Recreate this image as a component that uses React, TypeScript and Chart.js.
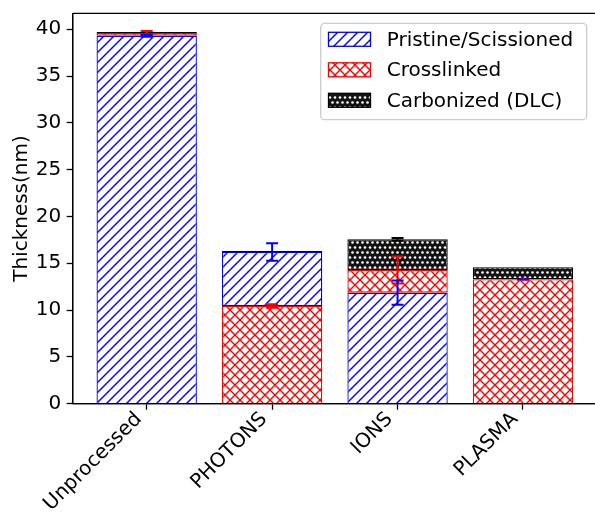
import React, { useEffect, useRef } from "react";
import { Chart, registerables } from "chart.js";

Chart.register(...registerables);

// ---- data ----
const categories = ["Unprocessed", "PHOTONS", "IONS", "PLASMA"];
const pristine = [39.3, 5.76, 11.86, 0];
const crosslinked = [0.3, 10.44, 2.42, 13.29];
const carbonized = [0.1, 0.1, 3.28, 1.28];
// true where the pristine layer sits on top of the crosslinked layer
const pristineOnTop = [false, true, false, true];
const errPristine = [0.1, 0.93, 1.3, 0];
const errCrosslinked = [0.2, 0.18, 1.45, 0.05];
const errCarbonized: (number | null)[] = [null, null, 0.15, null];
const yTicks = [0, 5, 10, 15, 20, 25, 30, 35, 40];
const legendLabels = ["Pristine/Scissioned", "Crosslinked", "Carbonized (DLC)"];

const FONT = "'DejaVu Sans', 'Liberation Sans', sans-serif";
const BLUE = "#0000ff";
const RED = "#ff0000";
const BLACK = "#000000";

function makeTile(kind: "blue" | "red" | "black"): HTMLCanvasElement {
  const c = document.createElement("canvas");
  c.width = 10;
  c.height = 10;
  const g = c.getContext("2d")!;
  if (kind === "black") {
    g.fillStyle = "#141414";
    g.fillRect(0, 0, 10, 10);
    g.fillStyle = "#ffffff";
    const dots = [
      [2.5, 2.5], [7.5, 2.5],
      [0, 7.5], [5, 7.5], [10, 7.5],
    ];
    for (const [x, y] of dots) {
      g.beginPath();
      g.arc(x, y, 1.3, 0, Math.PI * 2);
      g.fill();
    }
    return c;
  }
  g.fillStyle = "#ffffff";
  g.fillRect(0, 0, 10, 10);
  g.strokeStyle = kind === "blue" ? BLUE : RED;
  g.lineWidth = 1.4;
  g.lineCap = "square";
  const seg = (x1: number, y1: number, x2: number, y2: number) => {
    g.beginPath();
    g.moveTo(x1, y1);
    g.lineTo(x2, y2);
    g.stroke();
  };
  seg(-1, 1, 1, -1);
  seg(-1, 11, 11, -1);
  seg(9, 11, 11, 9);
  if (kind === "red") {
    seg(-1, -1, 11, 11);
    seg(9, -1, 11, 1);
    seg(-1, 9, 1, 11);
  }
  return c;
}

export default function App() {
  const ref = useRef<HTMLCanvasElement | null>(null);

  useEffect(() => {
    const canvas = ref.current;
    if (!canvas) return;
    const ctx0 = canvas.getContext("2d")!;
    const pBlue = ctx0.createPattern(makeTile("blue"), "repeat")!;
    const pRed = ctx0.createPattern(makeTile("red"), "repeat")!;
    const pBlack = ctx0.createPattern(makeTile("black"), "repeat")!;

    const pts = (vals: (number | null)[]) =>
      vals
        .map((v, i) => ({ x: i, y: v }))
        .filter((p) => p.y !== null && p.y !== 0) as { x: number; y: number }[];

    const pristineBottom = pristine.map((v, i) => (pristineOnTop[i] ? null : v));
    const pristineTop = pristine.map((v, i) => (pristineOnTop[i] ? v : null));

    // the lowest segment of each bar sits on the axis: skip its bottom edge
    const skipFor = (dsIndex: number) => (c: any) => {
      const cat = c.raw ? c.raw.x : -1;
      if (cat < 0) return false;
      const bottomDs = pristineOnTop[cat] ? 1 : 0;
      return dsIndex === bottomDs ? "start" : false;
    };

    const common = {
      borderWidth: 1.3,
      stack: "s",
      categoryPercentage: 1.0,
      barPercentage: 0.8,
    };

    const errorPlugin = {
      id: "errorbars",
      afterDatasetsDraw(chart: any) {
        const ctx = chart.ctx as CanvasRenderingContext2D;
        const xs = chart.scales.x;
        const ys = chart.scales.y;
        const a = chart.chartArea;
        const drawErr = (i: number, center: number, err: number, color: string) => {
          const x = xs.getPixelForValue(i);
          const yT = ys.getPixelForValue(center + err);
          const yB = ys.getPixelForValue(center - err);
          ctx.save();
          ctx.strokeStyle = color;
          ctx.lineWidth = 2;
          ctx.beginPath();
          ctx.moveTo(x, yT);
          ctx.lineTo(x, yB);
          ctx.moveTo(x - 6, yT);
          ctx.lineTo(x + 6, yT);
          ctx.moveTo(x - 6, yB);
          ctx.lineTo(x + 6, yB);
          ctx.stroke();
          ctx.restore();
        };
        categories.forEach((_, i) => {
          let pTop: number, cTop: number;
          if (pristineOnTop[i]) {
            cTop = crosslinked[i];
            pTop = cTop + pristine[i];
          } else {
            pTop = pristine[i];
            cTop = pTop + crosslinked[i];
          }
          const dTop = Math.max(pTop, cTop) + carbonized[i];
          drawErr(i, cTop, errCrosslinked[i], RED);
          drawErr(i, pTop, errPristine[i], BLUE);
          const ec = errCarbonized[i];
          if (ec !== null) drawErr(i, dTop, ec, BLACK);
        });
        // spines above the bars
        ctx.save();
        ctx.strokeStyle = BLACK;
        ctx.lineWidth = 1.3;
        ctx.beginPath();
        ctx.moveTo(a.left, a.bottom);
        ctx.lineTo(a.right, a.bottom);
        ctx.moveTo(a.left, a.top);
        ctx.lineTo(a.right, a.top);
        ctx.lineTo(a.right, a.bottom);
        ctx.moveTo(a.left, a.top);
        ctx.lineTo(a.left, a.bottom);
        ctx.stroke();
        ctx.restore();
      },
      afterDraw(chart: any) {
        const ctx = chart.ctx as CanvasRenderingContext2D;
        // legend
        const lx = 320.7, ly = 23.3, lw = 266, lh = 96.4, r = 4;
        ctx.save();
        ctx.beginPath();
        ctx.moveTo(lx + r, ly);
        ctx.lineTo(lx + lw - r, ly);
        ctx.arcTo(lx + lw, ly, lx + lw, ly + r, r);
        ctx.lineTo(lx + lw, ly + lh - r);
        ctx.arcTo(lx + lw, ly + lh, lx + lw - r, ly + lh, r);
        ctx.lineTo(lx + r, ly + lh);
        ctx.arcTo(lx, ly + lh, lx, ly + lh - r, r);
        ctx.lineTo(lx, ly + r);
        ctx.arcTo(lx, ly, lx + r, ly, r);
        ctx.closePath();
        ctx.fillStyle = "rgba(255,255,255,0.8)";
        ctx.fill();
        ctx.strokeStyle = "#cccccc";
        ctx.lineWidth = 1.3;
        ctx.stroke();

        const rowsY = [39.3, 69.8, 100.3];
        const fills = [pBlue, pRed, pBlack];
        const edges = [BLUE, RED, BLACK];
        legendLabels.forEach((label, k) => {
          const px = 328.5, pw = 42, ph = 14;
          const py = rowsY[k] - ph / 2;
          ctx.fillStyle = fills[k];
          ctx.fillRect(px, py, pw, ph);
          ctx.strokeStyle = edges[k];
          ctx.lineWidth = 1.3;
          ctx.strokeRect(px, py, pw, ph);
          ctx.fillStyle = BLACK;
          ctx.font = `20px ${FONT}`;
          ctx.textBaseline = "middle";
          ctx.textAlign = "left";
          ctx.fillText(label, 386.7, rowsY[k] + 1);
        });
        ctx.restore();
      },
    };

    const chart = new Chart(canvas, {
      type: "bar",
      data: {
        datasets: [
          {
            label: legendLabels[0],
            data: pts(pristineBottom),
            backgroundColor: pBlue,
            borderColor: BLUE,
            borderSkipped: skipFor(0),
            ...common,
          },
          {
            label: legendLabels[1],
            data: pts(crosslinked),
            backgroundColor: pRed,
            borderColor: RED,
            borderSkipped: skipFor(1),
            ...common,
          },
          {
            label: legendLabels[0] + " (top)",
            data: pts(pristineTop),
            backgroundColor: pBlue,
            borderColor: BLUE,
            borderSkipped: false,
            ...common,
          },
          {
            label: legendLabels[2],
            data: pts(carbonized),
            backgroundColor: pBlack,
            borderColor: BLACK,
            borderSkipped: false,
            ...common,
          },
        ] as any,
      },
      options: {
        responsive: false,
        animation: false,
        devicePixelRatio: 1,
        layout: { padding: { top: 13.3, right: 3, left: 0, bottom: 0 } },
        plugins: {
          legend: { display: false },
          tooltip: { enabled: false },
        },
        scales: {
          x: {
            type: "linear",
            stacked: true,
            min: -0.59,
            max: 3.59,
            offset: false,
            afterBuildTicks: (s: any) => {
              s.ticks = categories.map((_, i) => ({ value: i }));
            },
            afterFit: (s: any) => {
              s.height = 521 - 403.7;
              s.paddingLeft = 0;
              s.paddingRight = 0;
            },
            ticks: {
              autoSkip: false,
              minRotation: 45,
              maxRotation: 45,
              padding: -2,
              labelOffset: -8,
              color: BLACK,
              font: { family: FONT, size: 20 },
              callback: (v: any) => categories[Number(v)] ?? "",
            },
            grid: {
              offset: false,
              drawOnChartArea: false,
              drawTicks: true,
              tickLength: 6,
              tickWidth: 1.3,
              tickColor: BLACK,
            },
            border: { display: true, color: BLACK, width: 1.3 },
          } as any,
          y: {
            stacked: true,
            min: 0,
            max: 41.7,
            afterBuildTicks: (s: any) => {
              s.ticks = yTicks.map((v) => ({ value: v }));
            },
            afterFit: (s: any) => {
              s.width = 72.7;
              s.paddingTop = 0;
              s.paddingBottom = 0;
            },
            ticks: {
              padding: 5.5,
              color: BLACK,
              font: { family: FONT, size: 20 },
            },
            grid: {
              drawOnChartArea: false,
              drawTicks: true,
              tickLength: 6,
              tickWidth: 1.3,
              tickColor: BLACK,
            },
            border: { display: true, color: BLACK, width: 1.3 },
            title: {
              display: true,
              text: "Thickness(nm)",
              color: BLACK,
              font: { family: FONT, size: 20 },
              padding: { top: 10, bottom: 0 },
            },
          } as any,
        },
      },
      plugins: [errorPlugin],
    });

    return () => chart.destroy();
  }, []);

  return (
    <div
      style={{
        position: "fixed",
        left: 0,
        top: 0,
        width: 595,
        height: 521,
        overflow: "hidden",
        background: "#ffffff",
      }}
    >
      <canvas ref={ref} width={600} height={521} style={{ display: "block" }} />
    </div>
  );
}
